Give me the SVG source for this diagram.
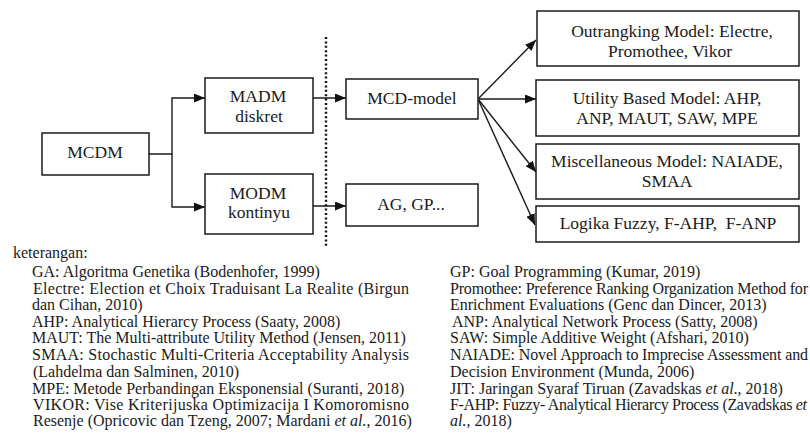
<svg xmlns="http://www.w3.org/2000/svg" width="810" height="448" viewBox="0 0 810 448">
<defs>
<style>
.box{fill:#fff;stroke:#1a1a1a;stroke-width:1.5}
.bt{font-family:'Liberation Serif','Times New Roman',serif;font-size:17.5px;fill:#1a1a1a;text-anchor:middle}
.lg{font-family:'Liberation Serif','Times New Roman',serif;font-size:16px;fill:#1a1a1a}
.cn{fill:none;stroke:#1a1a1a;stroke-width:1.4}
.it{font-style:italic}
</style>
<marker id="ah" markerWidth="11" markerHeight="9" refX="11" refY="4.5" orient="auto" markerUnits="userSpaceOnUse">
<path d="M0,0 L11,4.5 L0,9 Z" fill="#111"/>
</marker>
</defs>
<rect width="810" height="448" fill="#fff"/>

<g id="connectors">
<path class="cn" d="M149,154 H172 V98 H205" marker-end="url(#ah)"/>
<path class="cn" d="M172,154 V207 H205" marker-end="url(#ah)"/>
<path class="cn" d="M313,98 H346" marker-end="url(#ah)"/>
<path class="cn" d="M313,206 H346" marker-end="url(#ah)"/>
<path class="cn" d="M478,99 L536,40" marker-end="url(#ah)"/>
<path class="cn" d="M478,99 H536" marker-end="url(#ah)"/>
<path class="cn" d="M478,99 L536,172" marker-end="url(#ah)"/>
<path class="cn" d="M478,99 L535,225" marker-end="url(#ah)"/>
<line x1="326" y1="37" x2="326" y2="246" stroke="#111" stroke-width="2.4" stroke-dasharray="2 2.4"/>
</g>

<g id="mcdm">
<rect class="box" x="42" y="133" width="107" height="42"/>
<text class="bt" x="95" y="158">MCDM</text>
</g>
<g id="madm">
<rect class="box" x="205" y="78" width="108" height="55"/>
<text class="bt" x="258" y="102">MADM</text>
<text class="bt" x="259" y="122">diskret</text>
</g>
<g id="modm">
<rect class="box" x="205" y="174" width="108" height="60"/>
<text class="bt" x="258" y="199">MODM</text>
<text class="bt" x="259" y="218">kontinyu</text>
</g>
<g id="mcd-model">
<rect class="box" x="346" y="79" width="132" height="40"/>
<text class="bt" x="412" y="104">MCD-model</text>
</g>
<g id="ag-gp">
<rect class="box" x="346" y="184" width="132" height="42"/>
<text class="bt" x="411" y="210">AG, GP...</text>
</g>
<g id="outranking">
<rect class="box" x="537" y="11" width="262" height="55"/>
<text class="bt" x="672" y="37">Outrangking Model: Electre,</text>
<text class="bt" x="670" y="57">Promothee, Vikor</text>
</g>
<g id="utility">
<rect class="box" x="536" y="80" width="263" height="56"/>
<text class="bt" x="667" y="104">Utility Based Model: AHP,</text>
<text class="bt" x="667" y="124">ANP, MAUT, SAW, MPE</text>
</g>
<g id="misc">
<rect class="box" x="536" y="144" width="263" height="55"/>
<text class="bt" x="667" y="167">Miscellaneous Model: NAIADE,</text>
<text class="bt" x="667" y="187">SMAA</text>
</g>
<g id="fuzzy">
<rect class="box" x="536" y="206" width="263" height="36"/>
<text class="bt" x="668" y="229" xml:space="preserve">Logika Fuzzy, F-AHP,  F-ANP</text>
</g>

<g id="legend">
<text class="lg" x="13" y="258">keterangan:</text>
<text class="lg" x="32" y="277">GA: Algoritma Genetika (Bodenhofer, 1999)</text>
<text class="lg" x="33" y="294" textLength="376" lengthAdjust="spacing">Electre: Election et Choix Traduisant La Realite (Birgun</text>
<text class="lg" x="32" y="310">dan Cihan, 2010)</text>
<text class="lg" x="32" y="327">AHP: Analytical Hierarcy Process (Saaty, 2008)</text>
<text class="lg" x="32" y="343">MAUT: The Multi-attribute Utility Method (Jensen, 2011)</text>
<text class="lg" x="32" y="360" textLength="377" lengthAdjust="spacing">SMAA: Stochastic Multi-Criteria Acceptability Analysis</text>
<text class="lg" x="33" y="377">(Lahdelma dan Salminen, 2010)</text>
<text class="lg" x="32" y="394">MPE: Metode Perbandingan Eksponensial (Suranti, 2018)</text>
<text class="lg" x="33" y="410" textLength="376" lengthAdjust="spacing">VIKOR: Vise Kriterijuska Optimizacija I Komoromisno</text>
<text class="lg" x="33" y="426">Resenje (Opricovic dan Tzeng, 2007; Mardani <tspan class="it">et al.</tspan>, 2016)</text>

<text class="lg" x="450" y="277">GP: Goal Programming (Kumar, 2019)</text>
<text class="lg" x="450" y="294" textLength="358" lengthAdjust="spacing">Promothee: Preference Ranking Organization Method for</text>
<text class="lg" x="450" y="310">Enrichment Evaluations (Genc dan Dincer, 2013)</text>
<text class="lg" x="452" y="327">ANP: Analytical Network Process (Satty, 2008)</text>
<text class="lg" x="450" y="343">SAW: Simple Additive Weight (Afshari, 2010)</text>
<text class="lg" x="450" y="360" textLength="358" lengthAdjust="spacing">NAIADE: Novel Approach to Imprecise Assessment and</text>
<text class="lg" x="450" y="377">Decision Environment (Munda, 2006)</text>
<text class="lg" x="450" y="394">JIT: Jaringan Syaraf Tiruan (Zavadskas <tspan class="it">et al</tspan>., 2018)</text>
<text class="lg" x="450" y="410" textLength="357" lengthAdjust="spacing">F-AHP: Fuzzy- Analytical Hierarcy Process (Zavadskas <tspan class="it">et</tspan></text>
<text class="lg" x="450" y="426"><tspan class="it">al.</tspan>, 2018)</text>
</g>
</svg>
